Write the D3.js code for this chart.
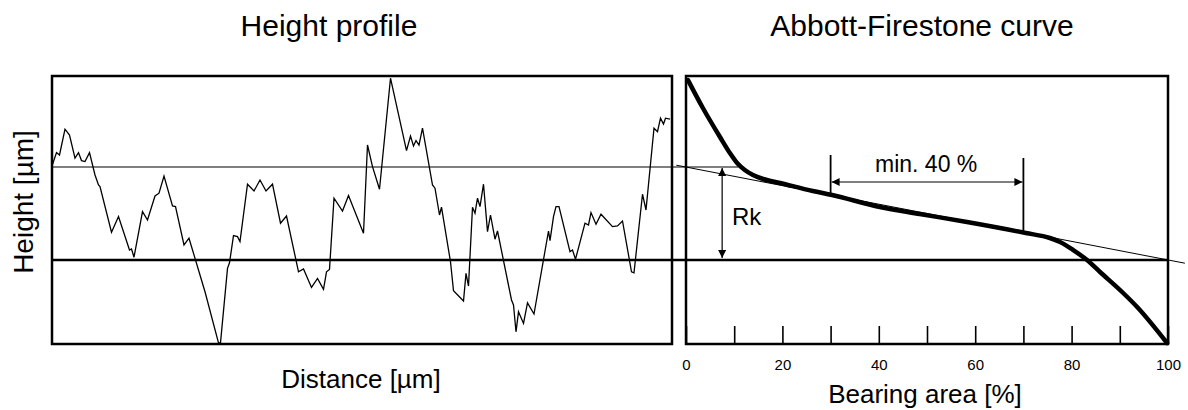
<!DOCTYPE html>
<html>
<head>
<meta charset="utf-8">
<script src="https://cdn.jsdelivr.net/npm/d3@7"></script>
<style>
  body { margin: 0; background: #fff; }
  svg { display: block; font-family: "Liberation Sans", Arial, sans-serif; }
</style>
</head>
<body>
<div id="chart"></div>
<script>
// height profile (distance in µm, height in µm)
const profileDist = [0, 9, 15, 26, 35, 46, 53, 59, 66, 75, 86, 93, 96, 119, 133, 155, 159, 164, 181, 191,
    206, 214, 224, 241, 247, 264, 274, 306, 333, 337, 351, 355, 363, 371, 376, 391, 404, 416, 428, 441,
    457, 469, 493, 503, 519, 531, 543, 549, 555, 564, 581, 593, 623, 631, 641, 655, 677, 709, 717, 723,
    728, 734, 741, 761, 766, 775, 779, 797, 803, 823, 828, 833, 841, 846, 851, 856, 863, 871, 877, 886,
    891, 919, 923, 928, 933, 943, 951, 964, 993, 996, 1003, 1008, 1014, 1036, 1041, 1047, 1066, 1073, 1078, 1088,
    1098, 1121, 1131, 1141, 1159, 1164, 1181, 1188, 1204, 1211, 1217, 1223, 1227, 1236];
const profileHeight = [4.7, 5.37, 5.25, 6.54, 6.25, 5.09, 5.37, 4.97, 4.92, 5.37, 4.25, 3.75, 3.67, 1.39, 2.17, 0.5, 0.55, 0.14, 2.42, 2.0,
    3.2, 3.34, 4.2, 2.7, 2.67, 0.75, 1.09, -1.59, -4.14, -4.14, -0.42, -0.14, 1.22, 1.17, 0.92, 3.79, 3.45, 4.0, 3.45, 3.79,
    1.84, 2.2, -0.59, -0.45, -1.37, -0.92, -1.47, -0.59, -0.47, 3.09, 2.45, 3.22, 1.34, 5.75, 4.67, 3.54, 9.09, 5.47, 6.2, 5.7,
    5.97, 5.75, 6.59, 3.75, 3.59, 2.25, 2.64, -0.09, -1.54, -2.05, -0.67, -1.3, 2.64, 2.34, 3.09, 2.67, 3.79, 1.42, 2.25, 1.04,
    1.45, -2.0, -2.25, -3.59, -2.59, -3.17, -2.14, -2.7, 1.45, 0.97, 2.17, 2.67, 2.67, 0.42, 0.5, 0.04, 1.84, 1.75, 2.37, 1.79,
    2.29, 1.67, 1.7, 1.95, -0.59, -0.64, 3.29, 2.5, 6.59, 6.42, 7.09, 6.8, 7.09, 7.04];

// Abbott-Firestone curve (bearing area %, height µm)
const bearingPct = [0.4, 3.5, 7.05, 9.1, 10.6, 12.2, 13.9, 16.0, 19.5, 26.3, 30.3, 40.2, 48.5, 58.3, 70.5, 75.5, 77.6, 80.3, 83.2, 85.9, 90.7, 93.6, 99.8];
const bearingHeight = [9.0, 7.6, 6.15, 5.35, 4.85, 4.5, 4.25, 4.05, 3.85, 3.45, 3.25, 2.65, 2.3, 1.9, 1.35, 1.1, 0.9, 0.5, 0.0, -0.6, -1.65, -2.35, -4.15];

// secant through the core, and reference levels
const secantPct = [-2, 103.5];
const secantHeight = [4.74, -0.16];
const coreTop = 4.65;
const coreBase = 0;
const rkPct = 7.5;
const minWindowPct = [30, 70];
const minWindowTop = [5.25, 5.1];
const minWindowBottom = [3.25, 1.35];
const minArrowHeight = 3.9;

const pctTicks = [0, 10, 20, 30, 40, 50, 60, 70, 80, 90, 100];

const width = 1188, height = 410;
const leftPanel = {x0: 52, x1: 672};
const rightPanel = {x0: 686, x1: 1168};
const plotTop = 76, plotBottom = 344;

let svg = d3.select("#chart")
    .append("svg")
    .attr("width", width)
    .attr("height", height);

let defs = svg.append("defs");
defs.append("marker")
    .attr("id", "arrow")
    .attr("viewBox", "0 0 10 10")
    .attr("refX", 10)
    .attr("refY", 5)
    .attr("markerWidth", 10)
    .attr("markerHeight", 8)
    .attr("markerUnits", "userSpaceOnUse")
    .attr("orient", "auto-start-reverse")
    .append("path")
    .attr("d", "M0,0L10,5L0,10Z")
    .attr("fill", "#000");

let y = d3.scaleLinear().domain([-4.2, 9.2]).range([plotBottom, plotTop]);
let xDist = d3.scaleLinear().domain([0, 1240]).range([leftPanel.x0, leftPanel.x1]);
let xPct = d3.scaleLinear().domain([0, 100]).range([rightPanel.x0, rightPanel.x1]);

// titles
svg.append("text")
    .attr("x", 329).attr("y", 36)
    .style("text-anchor", "middle")
    .style("font-size", "30px")
    .text("Height profile");

svg.append("text")
    .attr("x", 922).attr("y", 36)
    .style("text-anchor", "middle")
    .style("font-size", "30px")
    .text("Abbott-Firestone curve");

// axis labels
svg.append("text")
    .attr("transform", `translate(33, ${(plotTop + plotBottom) / 2 - 8}) rotate(-90)`)
    .style("text-anchor", "middle")
    .style("font-size", "28px")
    .text("Height [µm]");

svg.append("text")
    .attr("x", 361).attr("y", 388)
    .style("text-anchor", "middle")
    .style("font-size", "26px")
    .text("Distance [µm]");

svg.append("text")
    .attr("x", 925).attr("y", 403)
    .style("text-anchor", "middle")
    .style("font-size", "26px")
    .text("Bearing area [%]");

// bearing axis (ticks pointing inward)
let xAxis = svg.append("g")
    .attr("transform", `translate(0, ${plotBottom})`)
    .call(d3.axisBottom(xPct)
        .tickValues(pctTicks)
        .tickSizeInner(-18)
        .tickSizeOuter(0)
        .tickPadding(15)
        .tickFormat(d => d % 20 === 0 ? d : ""));
xAxis.select(".domain").remove();
xAxis.selectAll("line").attr("stroke-width", 1.6);
xAxis.selectAll("text")
    .style("font-size", "15px")
    .style("font-family", "\"Liberation Sans\", Arial, sans-serif");

// reference lines
svg.append("line")
    .attr("x1", leftPanel.x0).attr("x2", xPct(10.8))
    .attr("y1", y(coreTop)).attr("y2", y(coreTop))
    .attr("stroke", "#000").attr("stroke-width", 1.2);

svg.append("line")
    .attr("x1", leftPanel.x0).attr("x2", rightPanel.x1)
    .attr("y1", y(coreBase)).attr("y2", y(coreBase))
    .attr("stroke", "#000").attr("stroke-width", 2.5);

// profile
let profile = profileDist.map((d, i) => ({x: d, h: profileHeight[i]}));
svg.append("path")
    .datum(profile)
    .attr("fill", "none")
    .attr("stroke", "#000")
    .attr("stroke-width", 1.3)
    .attr("stroke-linejoin", "miter")
    .attr("d", d3.line().x(d => xDist(d.x)).y(d => y(d.h)));

// secant
let secant = secantPct.map((d, i) => ({p: d, h: secantHeight[i]}));
svg.append("path")
    .datum(secant)
    .attr("fill", "none")
    .attr("stroke", "#000")
    .attr("stroke-width", 1)
    .attr("d", d3.line().x(d => xPct(d.p)).y(d => y(d.h)));

// Abbott-Firestone curve
let bearing = bearingPct.map((d, i) => ({p: d, h: bearingHeight[i]}));
svg.append("path")
    .datum(bearing)
    .attr("fill", "none")
    .attr("stroke", "#000")
    .attr("stroke-width", 4.5)
    .attr("stroke-linecap", "round")
    .attr("d", d3.line().curve(d3.curveMonotoneX).x(d => xPct(d.p)).y(d => y(d.h)));

// Rk double arrow
svg.append("line")
    .attr("x1", xPct(rkPct)).attr("x2", xPct(rkPct))
    .attr("y1", y(coreTop) + 1).attr("y2", y(coreBase) - 2)
    .attr("stroke", "#000").attr("stroke-width", 1.2)
    .attr("marker-start", "url(#arrow)")
    .attr("marker-end", "url(#arrow)");

svg.append("text")
    .attr("x", 732).attr("y", 225)
    .style("font-size", "24px")
    .text("Rk");

// min. 40 % window
svg.selectAll(".window")
    .data(minWindowPct)
    .enter()
    .append("line")
    .attr("class", "window")
    .attr("x1", d => xPct(d)).attr("x2", d => xPct(d))
    .attr("y1", (d, i) => y(minWindowTop[i]))
    .attr("y2", (d, i) => y(minWindowBottom[i]))
    .attr("stroke", "#000").attr("stroke-width", 1.8);

svg.append("line")
    .attr("x1", xPct(minWindowPct[0]) + 1).attr("x2", xPct(minWindowPct[1]) - 1)
    .attr("y1", y(minArrowHeight)).attr("y2", y(minArrowHeight))
    .attr("stroke", "#000").attr("stroke-width", 1.2)
    .attr("marker-start", "url(#arrow)")
    .attr("marker-end", "url(#arrow)");

svg.append("text")
    .attr("x", 875).attr("y", 172)
    .style("font-size", "23px")
    .text("min. 40 %");

// panel borders
svg.append("rect")
    .attr("x", leftPanel.x0).attr("y", plotTop)
    .attr("width", leftPanel.x1 - leftPanel.x0).attr("height", plotBottom - plotTop)
    .attr("fill", "none").attr("stroke", "#000").attr("stroke-width", 2.5);

svg.append("rect")
    .attr("x", rightPanel.x0).attr("y", plotTop)
    .attr("width", rightPanel.x1 - rightPanel.x0).attr("height", plotBottom - plotTop)
    .attr("fill", "none").attr("stroke", "#000").attr("stroke-width", 2.5);
</script>
</body>
</html>
